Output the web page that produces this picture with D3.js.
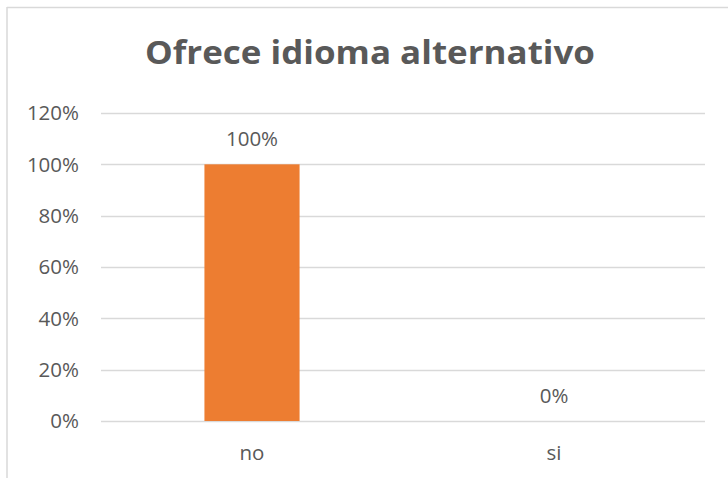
<!DOCTYPE html>
<html>
<head>
<meta charset="utf-8">
<script src="https://cdn.jsdelivr.net/npm/d3@7"></script>
<style>
  html, body { margin: 0; padding: 0; background: #fff; }
  svg { display: block; }
</style>
</head>
<body>
<svg id="chart" width="728" height="478"></svg>
<script>
const title = "Ofrece idioma alternativo";
const categories = ["no", "si"];
const values = [1.0, 0.0];
const yTicks = [0, 0.2, 0.4, 0.6, 0.8, 1.0, 1.2];

const svg = d3.select("#chart");
const W = 728, H = 478;
const font = "'Open Sans', 'Liberation Sans', sans-serif";
const textColor = "#595959";
const gridColor = "#d9d9d9";
const fs = 20.5;

// chart border (top and left visible)
svg.append("line").attr("x1", 7).attr("x2", W).attr("y1", 7.5).attr("y2", 7.5)
  .attr("stroke", gridColor).attr("stroke-width", 1.5);
svg.append("line").attr("x1", 7).attr("x2", 7).attr("y1", 7).attr("y2", H)
  .attr("stroke", gridColor).attr("stroke-width", 1.5);

const plot = { left: 101, right: 705, top: 113, bottom: 421 };

const x = d3.scaleBand().domain(categories).range([plot.left, plot.right]).padding(0);
const y = d3.scaleLinear().domain([0, 1.2]).range([plot.bottom, plot.top]);

// gridlines
svg.append("g").selectAll("line").data(yTicks).join("line")
  .attr("x1", plot.left).attr("x2", plot.right)
  .attr("y1", d => Math.round(y(d)) + 0.5).attr("y2", d => Math.round(y(d)) + 0.5)
  .attr("stroke", gridColor).attr("stroke-width", 1.3);

// y axis labels
const yAxis = d3.axisLeft(y).tickValues(yTicks).tickFormat(d3.format(".0%")).tickSize(0).tickPadding(0);
const gy = svg.append("g").attr("transform", `translate(79,0)`).call(yAxis);
gy.select(".domain").remove();
gy.selectAll("text").attr("font-family", font).attr("font-size", fs).attr("fill", textColor)
  .attr("dy", "0.33em");

// x axis labels
const xAxis = d3.axisBottom(x).tickSize(0).tickPadding(0);
const gx = svg.append("g").attr("transform", `translate(0,${plot.bottom})`).call(xAxis);
gx.select(".domain").remove();
gx.selectAll("text").attr("font-family", font).attr("font-size", fs).attr("fill", textColor)
  .attr("dy", null).attr("y", 39);

// bars
const barW = x.bandwidth() * 0.315;
svg.append("g").selectAll("rect").data(categories.map((c, i) => ({ c, v: values[i] }))).join("rect")
  .attr("x", d => x(d.c) + x.bandwidth() / 2 - barW / 2)
  .attr("width", barW)
  .attr("y", d => y(d.v))
  .attr("height", d => y(0) - y(d.v))
  .attr("fill", "#ED7D31");

// data labels
svg.append("g").selectAll("text").data(categories.map((c, i) => ({ c, v: values[i] }))).join("text")
  .attr("x", d => x(d.c) + x.bandwidth() / 2)
  .attr("y", d => y(d.v) - 18)
  .attr("text-anchor", "middle")
  .attr("font-family", font).attr("font-size", fs).attr("fill", textColor)
  .text(d => d3.format(".0%")(d.v));

// title
svg.append("text")
  .attr("x", 370).attr("y", 64)
  .attr("text-anchor", "middle")
  .attr("font-family", font).attr("font-weight", "bold").attr("font-size", 33)
  .attr("fill", textColor)
  .attr("textLength", 450).attr("lengthAdjust", "spacingAndGlyphs")
  .text(title);
</script>
</body>
</html>
